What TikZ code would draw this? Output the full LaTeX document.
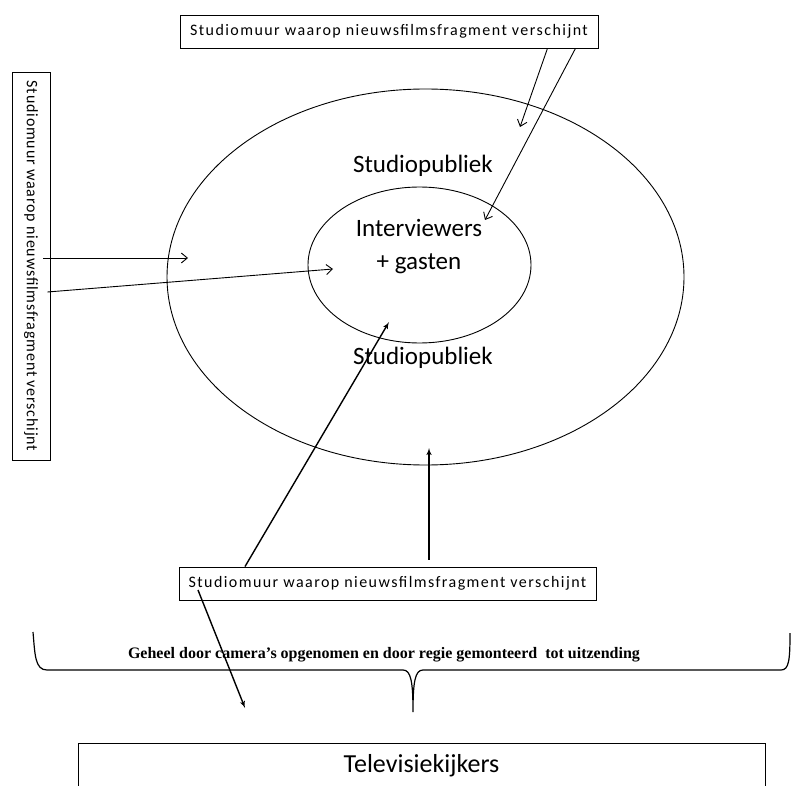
\documentclass[tikz,border=0pt]{standalone}
\usepackage{fontspec}
\setmainfont{Carlito}
\newfontfamily\wallfont[LetterSpace=9]{Carlito}
\newfontfamily\sidewallfont[LetterSpace=5]{Carlito}
\newfontfamily\remarkfont{Liberation Serif}
\usetikzlibrary{arrows}
\usetikzlibrary{arrows.meta}
\usetikzlibrary{shapes.geometric}
\tikzstyle{every node}+=[inner sep=0pt]
\tikzstyle{wall} = [rectangle, draw, font=\wallfont\fontsize{16}{18}\selectfont, text centered, minimum height=33pt, minimum width=418pt]
\tikzstyle{ring} = [ellipse, draw]
\tikzstyle{caption} = [font=\fontsize{25}{33}\selectfont, align=center]
\tikzstyle{remark} = [font=\remarkfont\bfseries\fontsize{16}{18}\selectfont]
\tikzstyle{line} = [draw, -{Straight Barb[length=6pt, width=10pt]}]
\tikzstyle{heavyline} = [draw, -latex', line width=1.4pt]

\begin{document}
\begin{tikzpicture}[x=1pt, y=-1pt, line width=0.9pt]
  \useasboundingbox (0,0) rectangle (792,786);
  % Place nodes
  \node [wall] (topwall) at (389,31.5) {Studiomuur waarop nieuwsfilmsfragment verschijnt};
  \node [wall, font=\sidewallfont\fontsize{16}{18}\selectfont, rotate=-90, minimum width=388pt, minimum height=38pt] (leftwall) at (31,266) {Studiomuur waarop nieuwsfilmsfragment verschijnt};
  \node [ring, minimum width=517pt, minimum height=376pt] (outer) at (425.5,277) {};
  \node [ring, minimum width=223pt, minimum height=156pt] (inner) at (419.5,265) {};
  \node [caption] (pubtop) at (423,166) {Studiopubliek};
  \node [caption] (guests) at (419,247) {Interviewers\\+ gasten};
  \node [caption] (pubbottom) at (423,358) {Studiopubliek};
  \node [wall, minimum width=417pt] (bottomwall) at (387.5,583.5) {Studiomuur waarop nieuwsfilmsfragment verschijnt};
  \node [remark] (whole) at (384,655) {Geheel door camera’s opgenomen en door regie gemonteerd\ \ tot uitzending};
  \node [draw, rectangle, minimum width=687pt, minimum height=46pt, font=\fontsize{26}{30}\selectfont] (viewers) at (421.5,766) {Televisiekijkers};
  % Free ends
  \coordinate (top1) at (520,127);
  \coordinate (top2) at (485,220);
  \coordinate (left1) at (188,258);
  \coordinate (left2) at (333,269);
  \coordinate (up1) at (389,322);
  \coordinate (up2) at (429,448);
  \coordinate (down) at (245,708);
  % Brace
  \draw [line width=1.2pt] (33,632) .. controls (35,655) and (35,670) .. (47,670) -- (403,670)
    .. controls (411,670) and (413,682) .. (413,712) .. controls (413,682) and (415,670) .. (423,670)
    -- (781,670) .. controls (789,670) and (790,660) .. (790,633);
  % Draw edges
  \path [line] ([xshift=-51pt]topwall.south east) -- (top1);
  \path [line] ([xshift=-23pt]topwall.south east) -- (top2);
  \path [line] ([xshift=-7pt,yshift=8pt]leftwall.center -| leftwall.north) -- (left1);
  \path [line] ([xshift=-3pt,yshift=-26pt]leftwall.center -| leftwall.north) -- (left2);
  \path [heavyline] ([xshift=-142.5pt]bottomwall.north) -- (up1);
  \path [heavyline] ([xshift=41.5pt,yshift=7pt]bottomwall.north) -- (up2);
  \path [heavyline] ([xshift=-189.5pt,yshift=-6.5pt]bottomwall.center) -- (down);
\end{tikzpicture}
\end{document}
